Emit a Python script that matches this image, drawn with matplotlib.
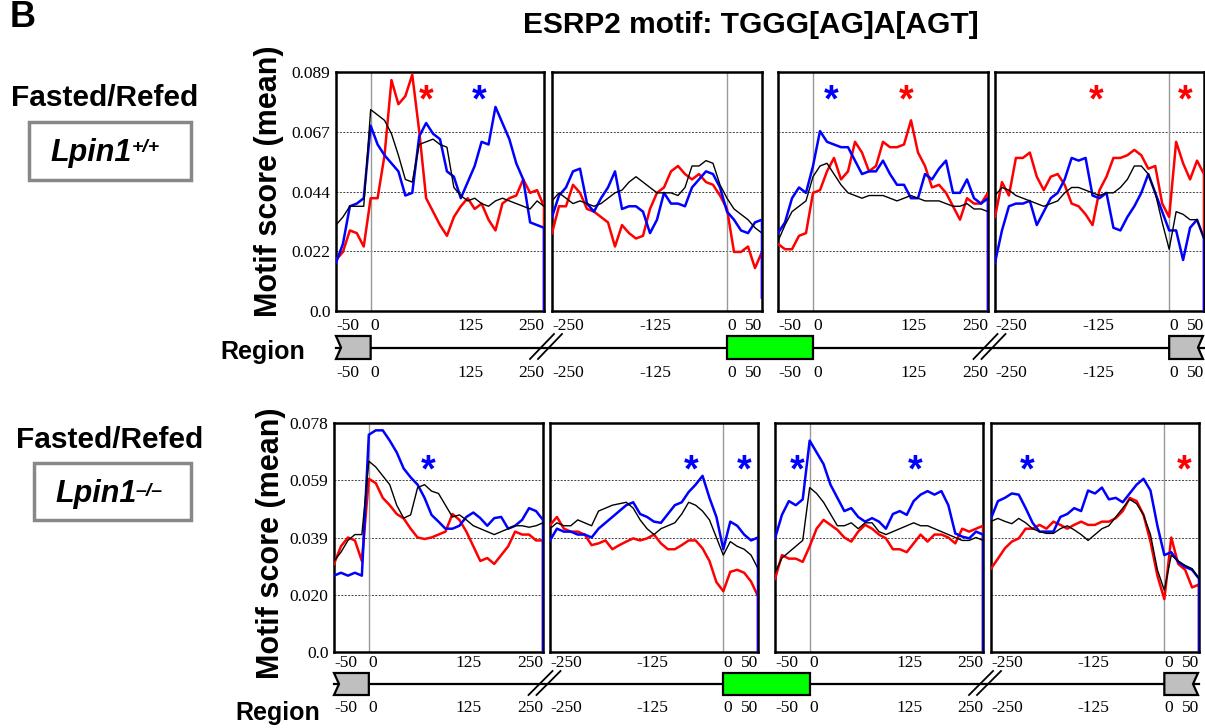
import numpy as np
import matplotlib
matplotlib.use("Agg")
import matplotlib.pyplot as plt
from matplotlib.patches import Polygon, Rectangle
from matplotlib.transforms import blended_transform_factory

plt.rcParams['font.family'] = ['Liberation Sans', 'DejaVu Sans']

W, H = 1205, 728
RED = '#ff0000'
BLUE = '#0000ff'

# sample positions (nt around the splice sites)
x_up = np.arange(-50, 251, 10)     # panels 1 and 3: -50 .. 250
x_down = np.arange(-250, 51, 10)   # panels 2 and 4: -250 .. 50

# ---- Lpin1 +/+ (top row) ----
wt_p1_red = [0.019, 0.022, 0.030, 0.029, 0.024, 0.042, 0.042, 0.058, 0.086, 0.077, 0.080, 0.088, 0.067, 0.042, 0.037, 0.032,
             0.028, 0.035, 0.039, 0.042, 0.038, 0.040, 0.034, 0.030, 0.040, 0.042, 0.043, 0.049, 0.044, 0.045, 0.039]
wt_p1_blue = [0.018, 0.025, 0.039, 0.040, 0.042, 0.069, 0.062, 0.058, 0.055, 0.052, 0.043, 0.044, 0.065, 0.070, 0.066, 0.064,
              0.052, 0.050, 0.042, 0.048, 0.054, 0.063, 0.062, 0.076, 0.070, 0.064, 0.055, 0.049, 0.033, 0.032, 0.031]
wt_p1_black = [0.032, 0.035, 0.039, 0.039, 0.039, 0.075, 0.073, 0.071, 0.066, 0.058, 0.049, 0.048, 0.062, 0.063, 0.064, 0.062,
               0.061, 0.046, 0.043, 0.041, 0.042, 0.040, 0.039, 0.041, 0.042, 0.041, 0.040, 0.039, 0.038, 0.041, 0.039]

wt_p2_red = [0.029, 0.039, 0.039, 0.047, 0.044, 0.038, 0.037, 0.035, 0.033, 0.024, 0.032, 0.029, 0.027, 0.028, 0.038, 0.044,
             0.046, 0.052, 0.054, 0.051, 0.049, 0.051, 0.048, 0.047, 0.043, 0.038, 0.022, 0.022, 0.024, 0.016, 0.022]
wt_p2_blue = [0.035, 0.043, 0.046, 0.052, 0.053, 0.040, 0.037, 0.042, 0.046, 0.052, 0.038, 0.039, 0.039, 0.037, 0.029, 0.034,
              0.044, 0.040, 0.040, 0.039, 0.046, 0.049, 0.052, 0.051, 0.046, 0.037, 0.034, 0.030, 0.029, 0.033, 0.034]
wt_p2_black = [0.041, 0.044, 0.042, 0.040, 0.041, 0.040, 0.039, 0.040, 0.042, 0.044, 0.045, 0.048, 0.050, 0.048, 0.046, 0.044,
               0.044, 0.044, 0.043, 0.046, 0.054, 0.054, 0.056, 0.055, 0.047, 0.042, 0.038, 0.036, 0.034, 0.031, 0.029]

wt_p3_red = [0.025, 0.023, 0.023, 0.028, 0.029, 0.044, 0.045, 0.052, 0.057, 0.049, 0.052, 0.063, 0.059, 0.052, 0.054, 0.063,
             0.061, 0.061, 0.062, 0.071, 0.059, 0.054, 0.046, 0.047, 0.044, 0.039, 0.034, 0.042, 0.040, 0.040, 0.044]
wt_p3_blue = [0.029, 0.033, 0.042, 0.046, 0.044, 0.054, 0.067, 0.063, 0.062, 0.061, 0.061, 0.056, 0.051, 0.052, 0.052, 0.056,
              0.051, 0.047, 0.047, 0.042, 0.042, 0.051, 0.049, 0.053, 0.056, 0.044, 0.044, 0.049, 0.042, 0.040, 0.042]
wt_p3_black = [0.026, 0.032, 0.037, 0.039, 0.041, 0.050, 0.054, 0.055, 0.051, 0.047, 0.044, 0.043, 0.042, 0.043, 0.043, 0.043,
               0.042, 0.041, 0.042, 0.043, 0.042, 0.041, 0.041, 0.041, 0.040, 0.039, 0.039, 0.040, 0.038, 0.038, 0.037]

wt_p4_red = [0.035, 0.048, 0.043, 0.057, 0.057, 0.059, 0.050, 0.045, 0.050, 0.051, 0.047, 0.040, 0.039, 0.036, 0.032, 0.045,
             0.050, 0.057, 0.057, 0.058, 0.060, 0.058, 0.053, 0.054, 0.040, 0.035, 0.063, 0.055, 0.049, 0.056, 0.051]
wt_p4_blue = [0.018, 0.030, 0.039, 0.040, 0.040, 0.041, 0.032, 0.037, 0.042, 0.044, 0.049, 0.057, 0.056, 0.057, 0.043, 0.042,
              0.044, 0.031, 0.030, 0.035, 0.039, 0.044, 0.051, 0.044, 0.037, 0.030, 0.030, 0.019, 0.031, 0.034, 0.027]
wt_p4_black = [0.043, 0.046, 0.045, 0.043, 0.042, 0.041, 0.040, 0.039, 0.040, 0.041, 0.044, 0.046, 0.046, 0.045, 0.044, 0.043,
               0.044, 0.044, 0.046, 0.049, 0.054, 0.054, 0.051, 0.044, 0.033, 0.023, 0.037, 0.036, 0.034, 0.034, 0.027]

# ---- Lpin1 -/- (bottom row) ----
ko_p1_red = [0.030, 0.036, 0.039, 0.038, 0.031, 0.059, 0.0575, 0.0525, 0.050, 0.047, 0.0455, 0.042, 0.039, 0.0385, 0.039, 0.040,
             0.041, 0.047, 0.045, 0.041, 0.036, 0.031, 0.032, 0.030, 0.033, 0.036, 0.041, 0.040, 0.040, 0.038, 0.038]
ko_p1_blue = [0.026, 0.027, 0.026, 0.027, 0.026, 0.074, 0.0755, 0.0755, 0.072, 0.068, 0.0625, 0.0595, 0.057, 0.0525, 0.0467, 0.0444,
              0.042, 0.042, 0.043, 0.046, 0.0475, 0.0456, 0.043, 0.0456, 0.046, 0.042, 0.043, 0.045, 0.049, 0.048, 0.045]
ko_p1_black = [0.031, 0.034, 0.038, 0.040, 0.040, 0.065, 0.063, 0.060, 0.057, 0.050, 0.0456, 0.0467, 0.056, 0.057, 0.0548, 0.054,
               0.050, 0.046, 0.0467, 0.045, 0.043, 0.042, 0.041, 0.040, 0.041, 0.042, 0.043, 0.043, 0.0425, 0.043, 0.044]

ko_p2_red = [0.0432, 0.046, 0.042, 0.041, 0.041, 0.040, 0.0364, 0.037, 0.038, 0.035, 0.0364, 0.0376, 0.0387, 0.038, 0.0387, 0.040,
             0.037, 0.035, 0.035, 0.0364, 0.038, 0.038, 0.0353, 0.031, 0.0238, 0.0207, 0.0273, 0.028, 0.027, 0.024, 0.019]
ko_p2_blue = [0.038, 0.042, 0.041, 0.041, 0.040, 0.040, 0.039, 0.042, 0.044, 0.046, 0.048, 0.050, 0.051, 0.047, 0.046, 0.0444,
              0.044, 0.047, 0.050, 0.051, 0.0545, 0.057, 0.060, 0.0525, 0.046, 0.035, 0.0444, 0.043, 0.040, 0.038, 0.039]
ko_p2_black = [0.042, 0.044, 0.043, 0.043, 0.045, 0.044, 0.043, 0.048, 0.049, 0.050, 0.0505, 0.051, 0.049, 0.045, 0.042, 0.040,
               0.042, 0.043, 0.044, 0.047, 0.051, 0.050, 0.048, 0.045, 0.039, 0.033, 0.0376, 0.036, 0.035, 0.033, 0.0284]

ko_p3_red = [0.0249, 0.033, 0.0318, 0.0318, 0.0307, 0.036, 0.042, 0.045, 0.0433, 0.0416, 0.039, 0.0376, 0.041, 0.0433, 0.042, 0.040,
             0.0387, 0.035, 0.035, 0.034, 0.037, 0.040, 0.0376, 0.040, 0.040, 0.039, 0.037, 0.042, 0.041, 0.042, 0.043]
ko_p3_blue = [0.0387, 0.0467, 0.0514, 0.050, 0.052, 0.072, 0.068, 0.064, 0.057, 0.0525, 0.048, 0.049, 0.046, 0.0444, 0.0456, 0.0444,
              0.042, 0.047, 0.048, 0.0467, 0.0514, 0.0536, 0.0548, 0.0536, 0.0548, 0.050, 0.0404, 0.0393, 0.0387, 0.041, 0.040]
ko_p3_black = [0.027, 0.032, 0.034, 0.036, 0.038, 0.056, 0.054, 0.051, 0.047, 0.043, 0.043, 0.044, 0.042, 0.044, 0.044, 0.041,
               0.040, 0.041, 0.042, 0.043, 0.044, 0.043, 0.043, 0.042, 0.041, 0.040, 0.039, 0.038, 0.038, 0.039, 0.038]

ko_p4_red = [0.0284, 0.0318, 0.0353, 0.0376, 0.0387, 0.042, 0.042, 0.0433, 0.042, 0.0444, 0.0433, 0.042, 0.0433, 0.0444, 0.0433, 0.0433,
             0.0444, 0.0444, 0.0456, 0.048, 0.0525, 0.0514, 0.0467, 0.0376, 0.026, 0.018, 0.039, 0.030, 0.028, 0.022, 0.023]
ko_p4_blue = [0.0455, 0.0514, 0.0525, 0.054, 0.0536, 0.049, 0.044, 0.041, 0.041, 0.041, 0.046, 0.047, 0.049, 0.048, 0.055, 0.054,
              0.056, 0.052, 0.0525, 0.051, 0.054, 0.057, 0.059, 0.055, 0.043, 0.033, 0.034, 0.0307, 0.029, 0.028, 0.025]
ko_p4_black = [0.0445, 0.0455, 0.0445, 0.0437, 0.0455, 0.044, 0.042, 0.041, 0.0404, 0.0404, 0.042, 0.043, 0.0416, 0.040, 0.038, 0.040,
               0.042, 0.043, 0.046, 0.049, 0.052, 0.0505, 0.0467, 0.040, 0.028, 0.021, 0.033, 0.031, 0.0295, 0.0284, 0.025]

# value the red/blue traces fall to at the right edge of each panel
wt_drop = [0.0, 0.005, 0.0, 0.0]
ko_drop = [0.0, 0.0, 0.0, 0.0]

wt_yticks = [0, 0.02225, 0.0445, 0.06675, 0.089]
wt_ylabels = ['0.0', '0.022', '0.044', '0.067', '0.089']
ko_yticks = [0, 0.0195, 0.039, 0.0585, 0.078]
ko_ylabels = ['0.0', '0.020', '0.039', '0.059', '0.078']

up_ticks = [-50, 0, 125, 250]
down_ticks = [-250, -125, 0, 50]

# significance stars: (panel, position, colour)
wt_stars = [(0, 80, RED), (0, 156, BLUE), (2, 26, BLUE), (2, 133, RED), (3, -105, RED), (3, 23, RED)]
ko_stars = [(0, 85, BLUE), (1, -47, BLUE), (1, 30, BLUE), (2, -18, BLUE), (2, 152, BLUE), (3, -198, BLUE), (3, 28, RED)]

# layout in pixels
wt_boxes = [(336, 544), (552, 762), (778, 988), (995, 1204)]
ko_boxes = [(334, 543), (550, 758), (775, 983), (991, 1199)]

fig = plt.figure(figsize=(W / 100, H / 100), dpi=100)
ov = fig.add_axes([0, 0, 1, 1])
ov.set_xlim(0, W)
ov.set_ylim(H, 0)
ov.axis('off')

serif = dict(family='Liberation Serif', fontsize=12.5)


def draw_row(boxes, ytop, ybot, series, drops, yticks, ylabels, stars, star_y, tick_y, reg_y, bar_y, bar_h):
    axes = []
    for i, (x0, x1) in enumerate(boxes):
        ax = fig.add_axes([x0 / W, 1 - ybot / H, (x1 - x0) / W, (ybot - ytop) / H])
        x = x_up if i % 2 == 0 else x_down
        ticks = up_ticks if i % 2 == 0 else down_ticks
        red, blue, black = series[i]
        for vals, col, lw, drop in [(red, RED, 1.8, drops[i]), (blue, BLUE, 1.8, drops[i]), (black, 'black', 1.0, None)]:
            xs, ys = x, np.array(vals)
            if drop is not None:
                xs = np.append(x, x[-1])
                ys = np.append(ys, drop)
            ax.plot(xs, ys, color=col, lw=lw, zorder=3)
        ax.set_xlim(x[0], x[-1])
        ax.set_ylim(0, yticks[-1])
        ax.axvline(0, color='#999999', lw=1, zorder=1)
        ax.set_yticks(yticks)
        ax.yaxis.grid(True, linestyle=(0, (2, 1.5)), color='#444444', lw=0.7)
        ax.set_axisbelow(True)
        ax.set_xticks([])
        ax.tick_params(length=0, pad=4)
        if i == 0:
            ax.set_yticklabels(ylabels, **serif)
        else:
            ax.set_yticklabels([])
        for s in ax.spines.values():
            s.set_linewidth(1.8)

        trans = blended_transform_factory(ax.transData, ax.transAxes)
        hgt = ybot - ytop
        for j, t in enumerate(ticks):
            ha = 'right' if j == len(ticks) - 1 else 'left'
            for yy in (tick_y, reg_y):
                ax.text(t, (ybot - yy) / hgt, str(t), transform=trans, ha=ha, va='center',
                        clip_on=False, **serif)
        axes.append(ax)

    for p, pos, col in stars:
        ax = axes[p]
        trans = blended_transform_factory(ax.transData, ax.transAxes)
        ax.text(pos, star_y, '*', color=col, fontsize=27, fontweight='bold', ha='center', va='center',
                transform=trans)

    # region diagram under the row
    ov.plot([boxes[0][0], boxes[3][1]], [bar_y, bar_y], color='black', lw=1.6, zorder=1)
    yt, yb = bar_y - bar_h / 2, bar_y + bar_h / 2
    w0 = boxes[0][1] - boxes[0][0]
    gx0, gx1 = boxes[0][0], boxes[0][0] + w0 * 50 / 300
    ov.add_patch(Polygon([(gx0, yt), (gx1, yt), (gx1, yb), (gx0, yb), (gx0 + 5, bar_y)],
                         closed=True, fc='#bfbfbf', ec='black', lw=1.6, zorder=2))
    w1 = boxes[1][1] - boxes[1][0]
    w2 = boxes[2][1] - boxes[2][0]
    ex0, ex1 = boxes[1][0] + w1 * 250 / 300, boxes[2][0] + w2 * 50 / 300
    ov.add_patch(Rectangle((ex0, yt), ex1 - ex0, bar_h, fc='#00ff00', ec='black', lw=1.6, zorder=2))
    w3 = boxes[3][1] - boxes[3][0]
    rx0, rx1 = boxes[3][0] + w3 * 250 / 300, boxes[3][1] - 1
    ov.add_patch(Polygon([(rx0, yt), (rx1, yt), (rx1 - 5, bar_y), (rx1, yb), (rx0, yb)],
                         closed=True, fc='#bfbfbf', ec='black', lw=1.6, zorder=2))
    # break marks
    for k in (0, 2):
        cx = (boxes[k][1] + boxes[k + 1][0]) / 2
        for off in (-6, 2):
            ov.plot([cx + off - 12, cx + off + 12], [yb, yt - 2], color='black', lw=1.3, zorder=3)


draw_row(wt_boxes, 72, 311,
         [(wt_p1_red, wt_p1_blue, wt_p1_black), (wt_p2_red, wt_p2_blue, wt_p2_black),
          (wt_p3_red, wt_p3_blue, wt_p3_black), (wt_p4_red, wt_p4_blue, wt_p4_black)],
         wt_drop, wt_yticks, wt_ylabels, wt_stars, 0.875, 326, 373, 347.5, 23)
draw_row(ko_boxes, 423, 652,
         [(ko_p1_red, ko_p1_blue, ko_p1_black), (ko_p2_red, ko_p2_blue, ko_p2_black),
          (ko_p3_red, ko_p3_blue, ko_p3_black), (ko_p4_red, ko_p4_blue, ko_p4_black)],
         ko_drop, ko_yticks, ko_ylabels, ko_stars, 0.79, 663, 708, 684, 22)

# labels and titles
ov.text(10, 27, 'B', fontsize=26, fontweight='bold', ha='left', va='baseline')
ov.text(751, 25, 'ESRP2 motif: TGGG[AG]A[AGT]', fontsize=21.5, fontweight='bold', ha='center', va='center')

ov.text(105, 106, 'Fasted/Refed', fontsize=21.5, fontweight='bold', ha='center', va='baseline')
ov.add_patch(Rectangle((29, 122), 162, 58, fill=False, ec='#888888', lw=2.5))
ov.text(50, 160.5, 'Lpin1', fontsize=22, fontweight='bold', style='italic', ha='left', va='baseline')
ov.text(132, 152, '+/+', fontsize=14, fontweight='bold', style='italic', ha='left', va='baseline')

ov.text(110, 448, 'Fasted/Refed', fontsize=21.5, fontweight='bold', ha='center', va='baseline')
ov.add_patch(Rectangle((34, 463), 157, 57, fill=False, ec='#888888', lw=2.5))
ov.text(55, 502, 'Lpin1', fontsize=22, fontweight='bold', style='italic', ha='left', va='baseline')
ov.text(136, 496, '\u2013/\u2013', fontsize=14, fontweight='bold', style='italic', ha='left', va='baseline')

ov.text(269, 181, 'Motif score (mean)', fontsize=22, fontweight='bold', rotation=90, ha='center', va='center')
ov.text(271, 543, 'Motif score (mean)', fontsize=22, fontweight='bold', rotation=90, ha='center', va='center')
ov.text(263, 359, 'Region', fontsize=18, fontweight='bold', ha='center', va='baseline')
ov.text(278, 720, 'Region', fontsize=18, fontweight='bold', ha='center', va='baseline')

fig.savefig('out.png', dpi=100)
